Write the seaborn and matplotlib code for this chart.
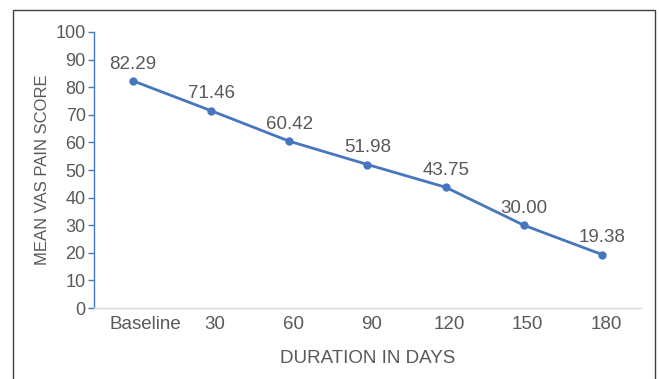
import numpy as np
import pandas as pd
import matplotlib
matplotlib.use("Agg")
import matplotlib.pyplot as plt
import matplotlib.transforms as mtransforms
import seaborn as sns
from matplotlib.patches import Rectangle

# data
durations = ["Baseline", "30", "60", "90", "120", "150", "180"]
vas_scores = [82.29, 71.46, 60.42, 51.98, 43.75, 30.00, 19.38]

sns.set_style("white")
plt.rcParams['font.family'] = ['Liberation Sans', 'DejaVu Sans']

line_color = "#4677BE"
text_color = "#595959"

df = pd.DataFrame({"pos": np.arange(len(durations)) + 0.5, "score": vas_scores})

fig = plt.figure(figsize=(6.59, 3.79), dpi=100)
ax = fig.add_axes([0.1426, 0.1873, 0.8301, 0.7283])

sns.lineplot(data=df, x="pos", y="score", color=line_color, linewidth=2,
             marker="o", markersize=6, markeredgewidth=0, ax=ax)

for x, y in zip(df["pos"], df["score"]):
    ax.annotate(f"{y:.2f}", (x, y), xytext=(0, 6), textcoords="offset points",
                ha="center", va="bottom", fontsize=13.5, color=text_color)

ax.set_xlim(0, len(durations))
ax.set_ylim(0, 100)
ax.set_yticks(range(0, 101, 10))
ax.set_xticks(df["pos"])
ax.set_xticklabels(durations)
ax.tick_params(axis="y", colors=line_color, length=4, width=1, labelsize=13,
               labelcolor=text_color, pad=2, left=True)
ax.tick_params(axis="x", length=0, labelsize=13.5, labelcolor=text_color, pad=6)

# excel puts the category labels a little right of the points
for lab in ax.get_xticklabels():
    dx = 12 if lab.get_text() == "Baseline" else 4
    lab.set_transform(lab.get_transform() +
                      mtransforms.ScaledTranslation(dx / 100, 0, fig.dpi_scale_trans))

for s in ["top", "right"]:
    ax.spines[s].set_visible(False)
ax.spines["left"].set_color(line_color)
ax.spines["left"].set_linewidth(1)
ax.spines["bottom"].set_color("#D9D9D9")
ax.spines["bottom"].set_linewidth(1)

ax.set_xlabel("DURATION IN DAYS", fontsize=13.5, color=text_color, labelpad=12)
ax.set_ylabel("MEAN VAS PAIN SCORE", fontsize=12, color=text_color, labelpad=4)

# outer chart border, bottom edge runs past the image
fig.patches.append(Rectangle((13 / 659, -0.05), (655 - 13) / 659, 1 - 10 / 379 + 0.05,
                             transform=fig.transFigure, fill=False,
                             edgecolor="#404040", linewidth=1))

fig.savefig("out.png", dpi=100)
